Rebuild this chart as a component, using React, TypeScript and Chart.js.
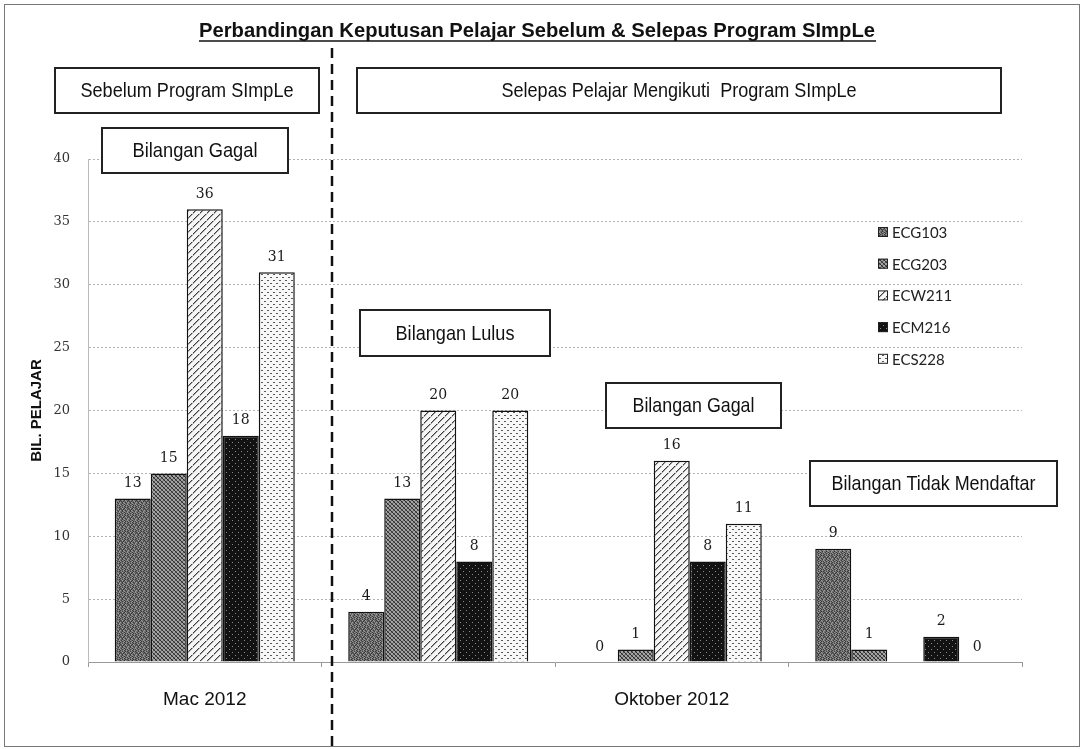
import React, { useEffect, useRef } from 'react';
import { Chart, registerables } from 'chart.js';

Chart.register(...registerables);

const categories = ['Mac 2012', '', 'Oktober 2012', ''];
const seriesNames = ['ECG103', 'ECG203', 'ECW211', 'ECM216', 'ECS228'];
const ECG103 = [13, 4, 0, 9];
const ECG203 = [15, 13, 1, 1];
const ECW211 = [36, 20, 16, null];
const ECM216 = [18, 8, 8, 2];
const ECS228 = [31, 20, 11, 0];
const yMin = 0;
const yMax = 40;
const yStep = 5;
const chartTitle = 'Perbandingan Keputusan Pelajar Sebelum & Selepas Program SImpLe';
const phaseLabels = ['Sebelum Program SImpLe', 'Selepas Pelajar Mengikuti  Program SImpLe'];
const groupLabels = ['Bilangan Gagal', 'Bilangan Lulus', 'Bilangan Gagal', 'Bilangan Tidak Mendaftar'];
const yTitle = 'BIL. PELAJAR';

const tiles: string[][] = [
  ['mdlmdmml', 'lmdmldmd', 'dmmldmlm', 'mldmmdmd', 'dmlmdlmm', 'mdmdmmld', 'lmdlmdmm', 'mmdmlmdl'],
  ['dllm', 'ldml', 'lmdl', 'mlld'],
  ['m.....d', '.....dm', '....dm.', '...lm..', '..dm...', '.dm....', 'dm.....'],
  ['kkkkkk', 'kgkkkk', 'kkkkkk', 'kkkkkk', 'kkkkgk', 'kkkkkk'],
  ['......', 'dd....', '......', '......', '...dd.', '......'],
];
const tileColors: Record<string, string>[] = [
  { d: '#3a3a3a', m: '#6e6e6e', l: '#989898' },
  { d: '#2e2e2e', m: '#5e5e5e', l: '#a4a4a4' },
  { d: '#3c3c3c', m: '#a8a8a8', l: '#d8d8d8', '.': '#f6f6f6' },
  { k: '#121212', g: '#8a8a8a' },
  { d: '#5a5a5a', '.': '#f8f8f8' },
];

function makePattern(rows: string[], colors: Record<string, string>): CanvasPattern | string {
  const h = rows.length;
  const w = rows[0].length;
  const c = document.createElement('canvas');
  c.width = w;
  c.height = h;
  const g = c.getContext('2d');
  if (!g) return '#888';
  for (let y = 0; y < h; y++) {
    for (let x = 0; x < w; x++) {
      g.fillStyle = colors[rows[y][x]] || '#fff';
      g.fillRect(x, y, 1, 1);
    }
  }
  return g.createPattern(c, 'repeat') || '#888';
}

function fitText(ctx: CanvasRenderingContext2D, text: string, cx: number, cy: number, font: string, width: number) {
  ctx.save();
  ctx.font = font;
  const w = ctx.measureText(text).width;
  const s = width / w;
  ctx.translate(cx, cy);
  ctx.scale(s, 1);
  ctx.textAlign = 'center';
  ctx.textBaseline = 'middle';
  ctx.fillStyle = '#111';
  ctx.fillText(text, 0, 0);
  ctx.restore();
}

function labelBox(ctx: CanvasRenderingContext2D, x0: number, y0: number, x1: number, y1: number, text: string, textW: number) {
  ctx.save();
  ctx.fillStyle = '#fff';
  ctx.fillRect(x0, y0, x1 - x0, y1 - y0);
  ctx.strokeStyle = '#222';
  ctx.lineWidth = 2;
  ctx.strokeRect(x0, y0, x1 - x0, y1 - y0);
  ctx.restore();
  fitText(ctx, text, (x0 + x1) / 2, (y0 + y1) / 2 + 1, '21px "Liberation Sans", Arial, sans-serif', textW);
}

export default function App() {
  const ref = useRef<HTMLCanvasElement | null>(null);

  useEffect(() => {
    document.body.style.margin = '0';
    const canvas = ref.current;
    if (!canvas) return;
    const patterns = tiles.map((t, i) => makePattern(t, tileColors[i]));
    const seriesValues = [ECG103, ECG203, ECW211, ECM216, ECS228];

    const bgPlugin = {
      id: 'bg',
      beforeDraw(chart: any) {
        const ctx = chart.ctx;
        ctx.save();
        ctx.fillStyle = '#fff';
        ctx.fillRect(0, 0, chart.width, chart.height);
        ctx.restore();
      },
    };

    const valuePlugin = {
      id: 'values',
      afterDatasetsDraw(chart: any) {
        const ctx = chart.ctx;
        ctx.save();
        ctx.font = '14px "DejaVu Serif", serif';
        ctx.fillStyle = '#1a1a1a';
        ctx.textAlign = 'center';
        ctx.textBaseline = 'middle';
        chart.data.datasets.forEach((ds: any, i: number) => {
          const meta = chart.getDatasetMeta(i);
          meta.data.forEach((el: any, j: number) => {
            const v = ds.data[j];
            if (v === null || v === undefined) return;
            ctx.fillText(String(v), el.x, el.y - 15);
          });
        });
        ctx.restore();
      },
    };

    const legendPlugin = {
      id: 'customLegend',
      afterDraw(chart: any) {
        const ctx = chart.ctx;
        ctx.save();
        chart.data.datasets.forEach((ds: any, i: number) => {
          const cy = 232 + i * 31.7;
          ctx.fillStyle = ds.backgroundColor;
          ctx.fillRect(878, cy - 5, 10, 10);
          ctx.strokeStyle = '#222';
          ctx.lineWidth = 1;
          ctx.strokeRect(878.5, cy - 4.5, 9, 9);
          ctx.fillStyle = '#222';
          ctx.font = '15px Lato, "Open Sans", sans-serif';
          ctx.textAlign = 'left';
          ctx.textBaseline = 'middle';
          ctx.fillText(ds.label, 892, cy + 1);
        });
        ctx.restore();
      },
    };

    const annotPlugin = {
      id: 'annot',
      afterDraw(chart: any) {
        const ctx = chart.ctx;
        ctx.save();
        ctx.strokeStyle = '#777';
        ctx.lineWidth = 1;
        ctx.strokeRect(4.5, 4.5, 1075, 742);
        ctx.strokeStyle = '#111';
        ctx.lineWidth = 2.5;
        ctx.setLineDash([10, 6]);
        ctx.beginPath();
        ctx.moveTo(332, 48);
        ctx.lineTo(332, 749);
        ctx.stroke();
        ctx.setLineDash([]);
        ctx.restore();
        fitText(ctx, chartTitle, 537, 31, 'bold 20px "Liberation Sans", Arial, sans-serif', 676);
        ctx.save();
        ctx.strokeStyle = '#111';
        ctx.lineWidth = 1.6;
        ctx.beginPath();
        ctx.moveTo(199, 41);
        ctx.lineTo(876, 41);
        ctx.stroke();
        ctx.restore();
        labelBox(ctx, 55, 68, 319, 113, phaseLabels[0], 213);
        labelBox(ctx, 357, 68, 1001, 113, phaseLabels[1], 355);
        labelBox(ctx, 102, 128, 288, 173, groupLabels[0], 125);
        labelBox(ctx, 360, 310, 550, 356, groupLabels[1], 119);
        labelBox(ctx, 606, 383, 781, 428, groupLabels[2], 122);
        labelBox(ctx, 810, 461, 1057, 506, groupLabels[3], 204);
      },
    };

    const chart = new Chart(canvas, {
      type: 'bar',
      data: {
        labels: categories,
        datasets: seriesNames.map((name, i) => ({
          label: name,
          data: seriesValues[i],
          backgroundColor: patterns[i] as any,
          borderColor: '#111',
          borderWidth: 1.5,
          borderSkipped: 'bottom',
          categoryPercentage: 0.771,
          barPercentage: 1,
        })),
      },
      options: {
        responsive: false,
        animation: false,
        events: [],
        layout: { padding: { left: 20, right: 62, top: 159, bottom: 0 } },
        plugins: {
          legend: { display: false },
          tooltip: { enabled: false },
          title: { display: false },
        },
        scales: {
          x: {
            afterFit: (s: any) => { s.height = 87; },
            grid: {
              display: true,
              offset: true,
              drawOnChartArea: false,
              drawTicks: true,
              tickLength: 5,
              color: '#999',
            },
            border: { display: true, color: '#999', width: 1 },
            ticks: {
              autoSkip: false,
              maxRotation: 0,
              padding: 21,
              color: '#111',
              font: { family: '"Liberation Sans Narrow", "Liberation Sans", Arial, sans-serif', size: 19 },
            },
          },
          y: {
            min: yMin,
            max: yMax,
            afterFit: (s: any) => { s.width = 68; },
            ticks: {
              stepSize: yStep,
              padding: 18,
              color: '#333',
              font: { family: '"DejaVu Serif", serif', size: 13 },
            },
            grid: { color: '#b4b4b4', lineWidth: 1, drawTicks: false },
            border: { display: true, color: '#bbb', dash: [2, 2] },
            title: {
              display: true,
              text: yTitle,
              color: '#111',
              font: { family: '"Liberation Sans", Arial, sans-serif', size: 15, weight: 'bold' },
              padding: { top: 8, bottom: 0 },
            },
          },
        },
      },
      plugins: [bgPlugin, valuePlugin, legendPlugin, annotPlugin],
    });

    return () => {
      chart.destroy();
    };
  }, []);

  return (
    <div style={{ width: 1084, height: 749 }}>
      <canvas ref={ref} width={1084} height={749} style={{ display: 'block' }} />
    </div>
  );
}
